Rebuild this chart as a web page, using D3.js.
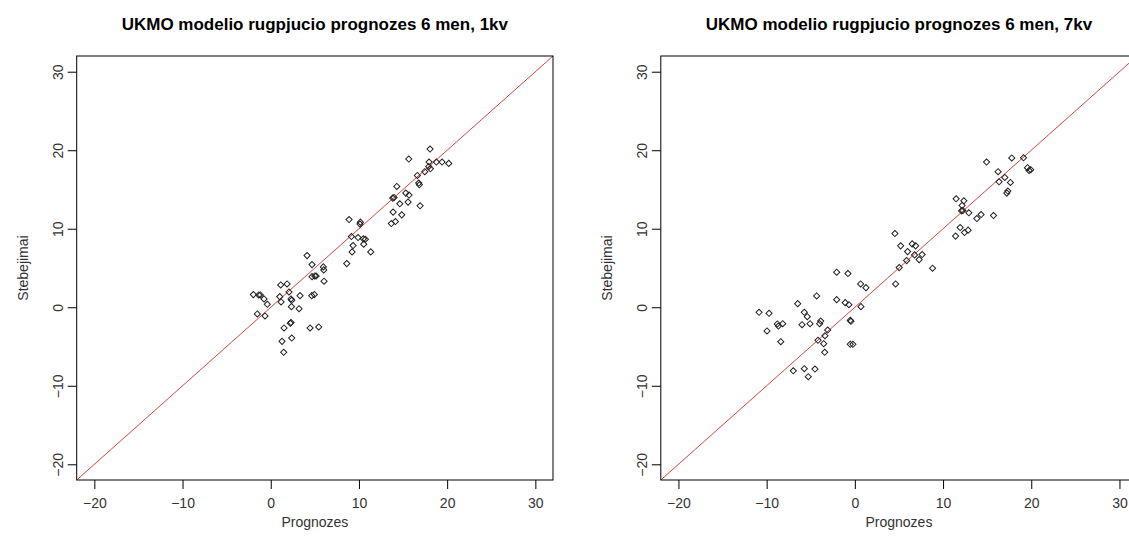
<!DOCTYPE html>
<html>
<head>
<meta charset="utf-8">
<script src="https://cdn.jsdelivr.net/npm/d3@7"></script>
<style>
  html, body { margin: 0; padding: 0; background: #fff; }
  svg { display: block; font-family: "Liberation Sans", Arial, sans-serif; }
</style>
</head>
<body>
<svg id="chart" width="1129" height="553"></svg>
<script>
// DATA
// panel 1: forecast 6 months ahead, 1st variant
const forecast1 = [18.06, 15.65, 17.95, 18.78, 19.42, 20.18, 17.91, 18.10, 17.46, 16.62,
  16.78, 16.85, 14.29, 13.83, 13.98, 15.31, 15.68, 14.63, 15.57, 16.93,
  13.87, 14.85, 13.67, 14.13, 8.88, 10.16, 10.12, 9.14, 9.90, 10.50,
  10.73, 10.54, 9.33, 9.22, 11.34, 8.62, 4.12, 4.68, 5.96, 6.01,
  4.99, 5.14, 4.68, 6.04, 1.13, 1.85, 2.07, 1.02, 3.32, 4.65,
  4.94, -1.97, -1.36, -1.18, -0.76, -0.39, 2.30, 2.38, 1.17, 2.34,
  3.21, -1.52, -0.65, 2.22, 2.30, 1.51, 4.46, 5.44, 1.28, 2.38, 1.47];
const observed1 = [20.15, 18.88, 18.49, 18.49, 18.49, 18.32, 17.93, 17.64, 17.26, 16.79,
  15.82, 15.60, 15.38, 13.90, 13.98, 14.54, 14.29, 13.18, 13.39, 12.92,
  12.12, 11.77, 10.66, 10.92, 11.17, 10.84, 10.59, 9.01, 8.88, 8.71,
  8.67, 8.04, 7.86, 7.05, 7.05, 5.56, 6.58, 5.43, 5.14, 4.76,
  3.99, 3.99, 3.90, 3.32, 2.84, 2.97, 1.95, 1.35, 1.48, 1.48,
  1.61, 1.61, 1.57, 1.57, 1.06, 0.38, 1.06, 0.89, 0.68, 0.08,
  -0.18, -0.85, -1.11, -2.04, -1.95, -2.64, -2.64, -2.51, -4.34, -3.92, -5.74];

// panel 2: forecast 6 months ahead, 7th variant
const forecast7 = [14.93, 17.79, 19.12, 19.57, 19.75, 19.94, 16.24, 17.00, 16.35, 17.64,
  17.34, 17.23, 11.48, 12.36, 12.16, 12.10, 12.24, 12.92, 14.31, 13.83,
  15.72, 11.94, 12.84, 12.43, 11.42, 4.54, 5.19, 6.50, 6.89, 5.98,
  6.77, 7.63, 7.29, 5.87, 5.03, 8.81, 4.62, -2.06, -0.78, 0.66,
  1.26, -4.33, -2.06, -1.09, -0.67, 0.69, -6.48, -5.73, -5.39, -5.99,
  -5.08, -3.87, -3.99, -8.18, -0.52, -0.44, -3.08, -3.39, -4.18, -3.53,
  -3.42, -0.52, -0.22, -8.40, -6.98, -5.73, -4.52, -5.28, -10.86, -9.73,
  -8.79, -8.67, -9.96];
const observed7 = [18.49, 19.01, 19.04, 17.77, 17.42, 17.51, 17.26, 16.53, 15.98, 15.89,
  14.80, 14.54, 13.81, 13.56, 12.96, 12.28, 12.32, 12.03, 11.81, 11.30,
  11.68, 10.15, 9.82, 9.52, 9.06, 9.39, 7.82, 8.07, 7.82, 7.09,
  6.67, 6.71, 6.07, 5.94, 5.05, 4.97, 2.97, 4.46, 4.29, 2.97,
  2.50, 1.44, 0.97, 0.59, 0.33, 0.08, 0.46, -0.64, -1.20, -2.22,
  -2.09, -1.75, -2.09, -2.09, -1.66, -1.79, -2.90, -3.62, -4.21, -4.64,
  -5.74, -4.72, -4.72, -4.39, -8.09, -7.83, -7.87, -8.85, -0.64, -0.77,
  -2.13, -2.39, -3.02];

const ticks = [-20, -10, 0, 10, 20, 30];
const axisLimits = [-22, 32];

const panels = [
  { title: "UKMO modelio rugpjucio prognozes 6 men, 1kv", x: forecast1, y: observed1, left: 76.7 },
  { title: "UKMO modelio rugpjucio prognozes 6 men, 7kv", x: forecast7, y: observed7, left: 660.8 }
];

// LAYOUT
const plotWidth = 476.3;
const plotTop = 56;
const plotBottom = 480;
const tickLen = 9;
const textColor = "#333";
const baseFont = 14;

const svg = d3.select("#chart");

function drawPanel(p) {
  const x = d3.scaleLinear().domain(axisLimits).range([p.left, p.left + plotWidth]);
  const y = d3.scaleLinear().domain(axisLimits).range([plotBottom, plotTop]);
  const g = svg.append("g");

  // title
  g.append("text")
    .attr("x", p.left + plotWidth / 2)
    .attr("y", 30)
    .attr("text-anchor", "middle")
    .attr("font-size", 17)
    .attr("font-weight", "bold")
    .attr("fill", "#000")
    .text(p.title);

  // x axis ticks and labels
  const xa = g.append("g").attr("transform", `translate(0,${plotBottom})`)
    .call(d3.axisBottom(x).tickValues(ticks).tickSize(tickLen).tickPadding(9).tickFormat(d3.format("d")));
  xa.select(".domain").remove();
  xa.selectAll("line").attr("stroke", "#000");
  xa.selectAll("text").attr("font-size", baseFont).attr("fill", textColor)
    .style("font-family", "'Liberation Sans', Arial, sans-serif");

  // y axis ticks and labels (rotated, as in R)
  const ya = g.append("g").attr("transform", `translate(${p.left},0)`)
    .call(d3.axisLeft(y).tickValues(ticks).tickSize(tickLen).tickFormat(d3.format("d")));
  ya.select(".domain").remove();
  ya.selectAll("line").attr("stroke", "#000");
  ya.selectAll("text")
    .attr("x", null).attr("dy", null)
    .attr("text-anchor", "middle")
    .attr("transform", `translate(${-14},0) rotate(-90)`)
    .attr("font-size", baseFont).attr("fill", textColor)
    .style("font-family", "'Liberation Sans', Arial, sans-serif");

  // axis titles
  g.append("text")
    .attr("x", p.left + plotWidth / 2)
    .attr("y", 527)
    .attr("text-anchor", "middle")
    .attr("font-size", baseFont)
    .attr("fill", textColor)
    .text("Prognozes");
  g.append("text")
    .attr("transform", `translate(${p.left - 49},${(plotTop + plotBottom) / 2}) rotate(-90)`)
    .attr("text-anchor", "middle")
    .attr("font-size", baseFont)
    .attr("fill", textColor)
    .text("Stebejimai");

  // clip to plot region
  const clipId = "clip" + Math.round(p.left);
  g.append("clipPath").attr("id", clipId)
    .append("rect")
    .attr("x", p.left).attr("y", plotTop)
    .attr("width", plotWidth).attr("height", plotBottom - plotTop);

  // 1:1 reference line
  g.append("line")
    .attr("clip-path", `url(#${clipId})`)
    .attr("x1", x(axisLimits[0])).attr("y1", y(axisLimits[0]))
    .attr("x2", x(axisLimits[1])).attr("y2", y(axisLimits[1]))
    .attr("stroke", "#d9443f")
    .attr("stroke-width", 1);

  // points: open diamonds
  const sym = d3.symbol(d3.symbolSquare, 19);
  g.append("g")
    .attr("fill", "none")
    .attr("stroke", "#222")
    .attr("stroke-width", 1)
    .selectAll("path")
    .data(d3.range(p.x.length))
    .join("path")
      .attr("transform", (i) => `translate(${x(p.x[i])},${y(p.y[i])}) rotate(45)`)
      .attr("d", sym);

  // box
  g.append("rect")
    .attr("x", p.left).attr("y", plotTop)
    .attr("width", plotWidth).attr("height", plotBottom - plotTop)
    .attr("fill", "none")
    .attr("stroke", "#000")
    .attr("stroke-width", 1);
}

panels.forEach(drawPanel);
</script>
</body>
</html>
